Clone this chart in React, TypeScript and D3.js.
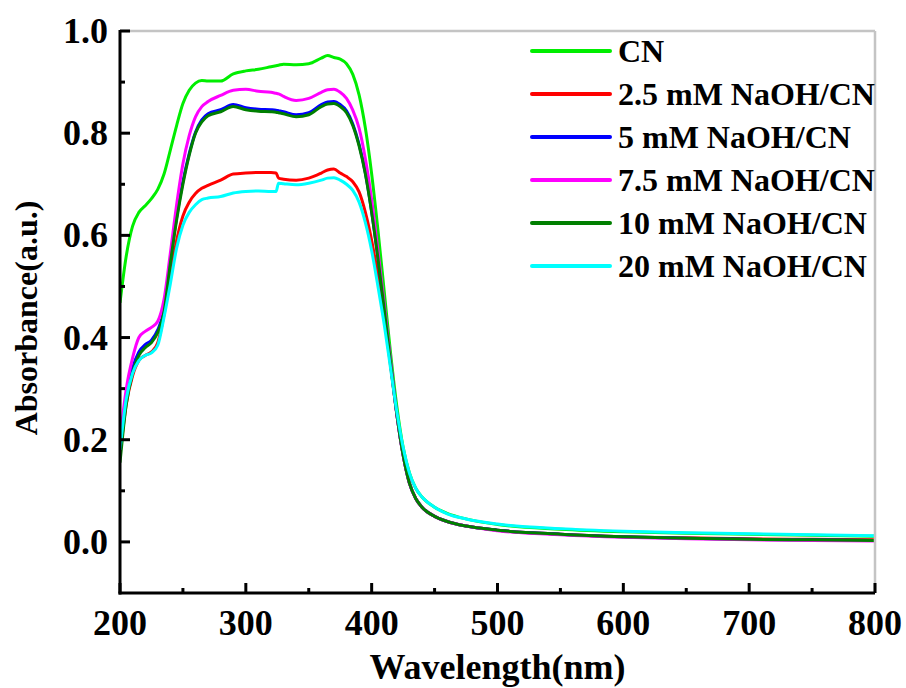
import React from "react";
import * as d3 from "d3";

const wavelengths = [200, 205, 210, 215, 220, 225, 230, 235, 240, 245, 250, 255, 260, 265, 270, 280, 290, 300, 310, 320, 324, 326, 330, 340, 350, 360, 365, 370, 375, 380, 385, 390, 395, 400, 405, 410, 415, 420, 425, 430, 435, 440, 450, 460, 475, 500, 550, 600, 650, 700, 750, 800];

const cn = [0.468, 0.56, 0.618, 0.645, 0.658, 0.672, 0.69, 0.72, 0.767, 0.815, 0.858, 0.884, 0.898, 0.903, 0.902, 0.902, 0.916, 0.922, 0.925, 0.93, 0.932, 0.933, 0.935, 0.934, 0.936, 0.947, 0.952, 0.948, 0.945, 0.936, 0.915, 0.875, 0.81, 0.72, 0.61, 0.49, 0.37, 0.265, 0.185, 0.135, 0.105, 0.088, 0.068, 0.056, 0.045, 0.034, 0.025, 0.02, 0.017, 0.015, 0.013, 0.011];
const naoh25 = [0.17, 0.27, 0.325, 0.355, 0.365, 0.372, 0.39, 0.445, 0.52, 0.59, 0.638, 0.665, 0.682, 0.692, 0.698, 0.708, 0.72, 0.722, 0.723, 0.723, 0.722, 0.712, 0.71, 0.708, 0.712, 0.722, 0.728, 0.73, 0.722, 0.715, 0.705, 0.685, 0.645, 0.59, 0.52, 0.44, 0.345, 0.25, 0.17, 0.115, 0.085, 0.068, 0.05, 0.04, 0.031, 0.023, 0.015, 0.01, 0.008, 0.006, 0.005, 0.004];
const naoh5 = [0.18, 0.28, 0.34, 0.372, 0.386, 0.395, 0.415, 0.455, 0.55, 0.635, 0.705, 0.76, 0.802, 0.826, 0.838, 0.846, 0.856, 0.85, 0.847, 0.846, 0.845, 0.844, 0.842, 0.836, 0.84, 0.856, 0.861, 0.862, 0.856, 0.844, 0.818, 0.778, 0.722, 0.646, 0.556, 0.456, 0.35, 0.25, 0.17, 0.115, 0.085, 0.068, 0.05, 0.04, 0.031, 0.023, 0.015, 0.01, 0.007, 0.005, 0.004, 0.003];
const naoh75 = [0.2, 0.3, 0.36, 0.4, 0.412, 0.42, 0.432, 0.475, 0.565, 0.66, 0.74, 0.795, 0.832, 0.852, 0.862, 0.874, 0.884, 0.886, 0.882, 0.88, 0.878, 0.877, 0.872, 0.864, 0.868, 0.88, 0.885, 0.886, 0.88, 0.868, 0.845, 0.81, 0.75, 0.67, 0.57, 0.465, 0.355, 0.25, 0.17, 0.115, 0.085, 0.068, 0.05, 0.04, 0.031, 0.022, 0.014, 0.009, 0.006, 0.004, 0.003, 0.002];
const naoh10 = [0.155, 0.27, 0.33, 0.365, 0.38, 0.39, 0.41, 0.45, 0.545, 0.63, 0.70, 0.757, 0.8, 0.822, 0.834, 0.842, 0.852, 0.846, 0.843, 0.842, 0.841, 0.84, 0.838, 0.832, 0.836, 0.852, 0.857, 0.858, 0.852, 0.84, 0.815, 0.775, 0.72, 0.645, 0.555, 0.455, 0.35, 0.25, 0.17, 0.115, 0.085, 0.068, 0.05, 0.04, 0.031, 0.023, 0.015, 0.01, 0.007, 0.005, 0.004, 0.003];
const naoh20 = [0.18, 0.28, 0.33, 0.355, 0.365, 0.37, 0.385, 0.44, 0.505, 0.575, 0.62, 0.645, 0.66, 0.67, 0.673, 0.676, 0.683, 0.686, 0.687, 0.686, 0.686, 0.702, 0.701, 0.699, 0.702, 0.708, 0.712, 0.713, 0.708, 0.70, 0.688, 0.665, 0.625, 0.57, 0.50, 0.425, 0.34, 0.255, 0.185, 0.135, 0.105, 0.088, 0.068, 0.055, 0.045, 0.035, 0.026, 0.021, 0.018, 0.016, 0.014, 0.012];

const seriesNames = ["CN", "2.5 mM NaOH/CN", "5 mM NaOH/CN", "7.5 mM NaOH/CN", "10 mM NaOH/CN", "20 mM NaOH/CN"];
const seriesValues = [cn, naoh25, naoh5, naoh75, naoh10, naoh20];
const seriesColors = ["#00ee00", "#ff0000", "#0000ff", "#ff00ff", "#007f00", "#00ffff"];

const xMajor = [200, 300, 400, 500, 600, 700, 800];
const xMinor = [250, 350, 450, 550, 650, 750];
const yMajor = [0.0, 0.2, 0.4, 0.6, 0.8, 1.0];
const yMinor = [0.1, 0.3, 0.5, 0.7, 0.9];

const FONT = "'Liberation Serif', 'Times New Roman', serif";

export default function App() {
  const left = 120, right = 875, top = 31, bottom = 593;
  const x = d3.scaleLinear().domain([200, 800]).range([left, right]);
  const y = d3.scaleLinear().domain([-0.1, 1.0]).range([bottom, top]);
  const line = d3.line<[number, number]>()
    .x(d => x(d[0]))
    .y(d => y(d[1]))
    .curve(d3.curveMonotoneX);

  return (
    <svg width={906} height={688} style={{ position: "absolute", left: 0, top: 0, background: "#fff" }}
      fontFamily={FONT} fontWeight="bold">
      <defs>
        <clipPath id="plot">
          <rect x={left} y={top} width={right - left} height={bottom - top} />
        </clipPath>
      </defs>
      <g clipPath="url(#plot)">
        {seriesValues.map((vals, i) => (
          <path key={i} d={line(wavelengths.map((w, j) => [w, vals[j]]) as [number, number][]) || ""}
            fill="none" stroke={seriesColors[i]} strokeWidth={3} strokeLinejoin="round" />
        ))}
      </g>
      {/* frame */}
      <line x1={left} x2={right} y1={top} y2={top} stroke="#c4c4c4" strokeWidth={2.5} />
      <line x1={right} x2={right} y1={top} y2={bottom} stroke="#c4c4c4" strokeWidth={2.5} />
      <line x1={left} x2={left} y1={top - 1} y2={bottom + 1.5} stroke="#000" strokeWidth={3} />
      <line x1={left - 1.5} x2={right} y1={bottom} y2={bottom} stroke="#000" strokeWidth={3} />
      {/* x ticks */}
      {xMajor.map(v => (
        <g key={"xm" + v}>
          <line x1={x(v)} x2={x(v)} y1={bottom} y2={bottom - 10} stroke="#000" strokeWidth={3} />
          <text x={x(v)} y={635} textAnchor="middle" fontSize={36}>{v}</text>
        </g>
      ))}
      {xMinor.map(v => (
        <line key={"xn" + v} x1={x(v)} x2={x(v)} y1={bottom} y2={bottom - 5} stroke="#000" strokeWidth={3} />
      ))}
      {/* y ticks */}
      {yMajor.map(v => (
        <g key={"ym" + v}>
          <line x1={left} x2={left + 10} y1={y(v)} y2={y(v)} stroke="#000" strokeWidth={3} />
          <text x={108} y={y(v) + 12} textAnchor="end" fontSize={36}>{v.toFixed(1)}</text>
        </g>
      ))}
      {yMinor.map(v => (
        <line key={"yn" + v} x1={left} x2={left + 5} y1={y(v)} y2={y(v)} stroke="#000" strokeWidth={3} />
      ))}
      {/* axis titles */}
      <text x={(left + right) / 2} y={679} textAnchor="middle" fontSize={36}>Wavelength(nm)</text>
      <text transform={`translate(37, 318) rotate(-90)`} textAnchor="middle" fontSize={32}>Absorbance(a.u.)</text>
      {/* legend */}
      {seriesNames.map((name, i) => {
        const cy = 51 + i * 43;
        return (
          <g key={name}>
            <line x1={532} x2={610} y1={cy} y2={cy} stroke={seriesColors[i]} strokeWidth={4} strokeLinecap="round" />
            <text x={618} y={cy + 11} fontSize={32}>{name}</text>
          </g>
        );
      })}
    </svg>
  );
}
